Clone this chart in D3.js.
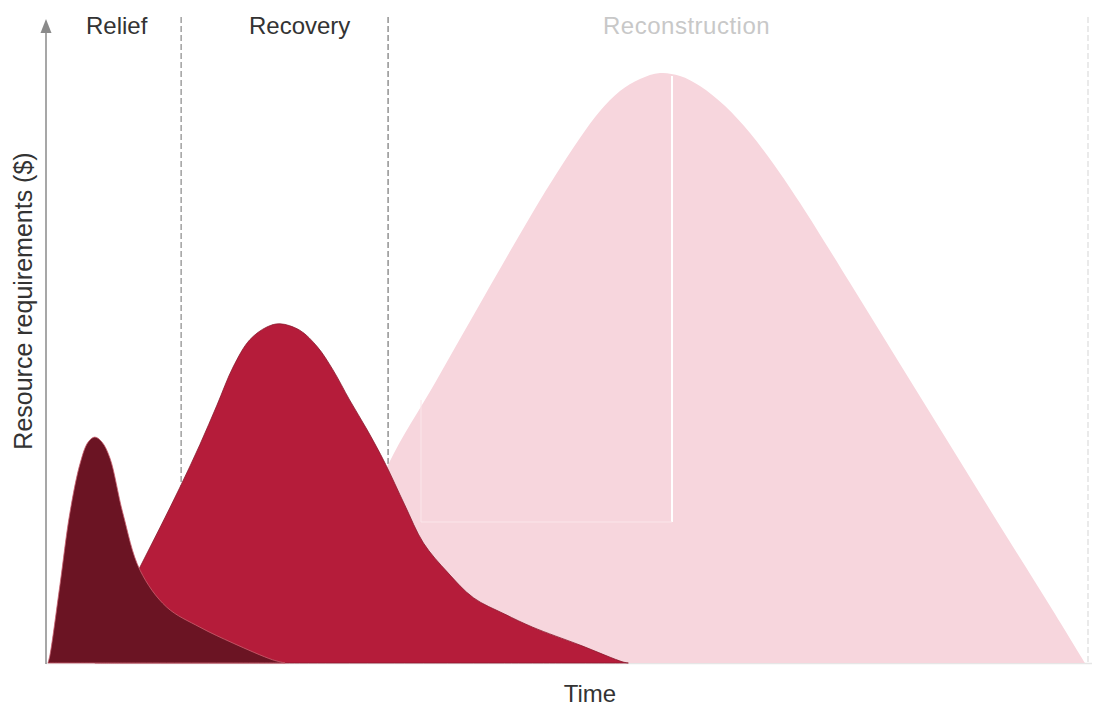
<!DOCTYPE html>
<html>
<head>
<meta charset="utf-8">
<script src="https://cdn.jsdelivr.net/npm/d3@7"></script>
<style>
  html, body { margin: 0; padding: 0; background: #fff; }
  svg { display: block; }
</style>
</head>
<body>
<svg id="chart" width="1101" height="706"></svg>
<script>
// ---- Data (time units 0-100, resource units 0-100) ----
const phases = ["Relief", "Recovery", "Reconstruction"];
const phaseBoundaries = [12.8, 32.7, 100];   // dashed dividers (time)
const phaseLabelX = [6.6, 24.2, 61.4];        // label centres (time)

const reliefT = [0, 0.19, 1.15, 2.1, 3.1, 3.85, 4.5, 5.2, 5.96, 7.2, 8.85, 11.4, 14.6, 17.8, 21.6, 22.8];
const reliefV = [0, 1.25, 12.2, 23.4, 31.25, 34.5, 35.3, 34.5, 32.0, 23.4, 14.5, 8.75, 5.6, 3.1, 0.5, 0];

const recoveryT = [4.5, 6.9, 8.85, 10.8, 12.7, 14.6, 16.25, 17.8, 19.4, 21.05, 22.3, 24.2, 25.9, 27.4, 29.0, 30.7, 32.4, 34.3, 36.1, 38.4, 40.9, 43.9, 46.6, 51.15, 55.3, 55.8];
const recoveryV = [0, 8.75, 15.0, 21.25, 27.5, 34.1, 40.3, 46.25, 50.5, 52.5, 53.0, 52.0, 49.4, 45.8, 41.1, 36.4, 31.25, 24.7, 18.75, 14.2, 10.2, 7.65, 5.6, 2.8, 0.15, 0];

const reconT = [24.2, 28.1, 32.69, 37.21, 42.02, 46.35, 48.75, 51.15, 53.08, 55.0, 56.92, 58.85, 60.77, 62.69, 65.1, 67.5, 69.9, 72.31, 77.12, 81.92, 86.73, 91.54, 96.35, 99.71];
const reconV = [0, 12.5, 30.94, 43.75, 57.5, 69.69, 76.09, 82.03, 86.25, 89.38, 91.25, 92.19, 91.72, 90.16, 87.03, 82.81, 77.66, 71.88, 59.38, 46.72, 34.06, 21.41, 8.91, 0];

const xLabel = "Time";
const yLabel = "Resource requirements ($)";

// ---- Layout ----
const svg = d3.select("#chart");
const x = d3.scaleLinear().domain([0, 100]).range([48, 1088]);
const y = d3.scaleLinear().domain([0, 100]).range([663, 23]);

const toPts = (t, v) => t.map((d, i) => [d, v[i]]);
const area = d3.area()
  .x(d => x(d[0]))
  .y0(y(0))
  .y1(d => Math.min(y(0), y(d[1])))
  .curve(d3.curveCatmullRom.alpha(0.5));

// baseline
svg.append("line")
  .attr("x1", 46).attr("x2", 1092)
  .attr("y1", y(0) + 0.5).attr("y2", y(0) + 0.5)
  .attr("stroke", "#e6e6e6").attr("stroke-width", 1.5);

// dashed phase dividers
const dashColors = ["#888", "#777", "#ddd"];
phaseBoundaries.forEach((b, i) => {
  svg.append("line")
    .attr("x1", x(b)).attr("x2", x(b))
    .attr("y1", 17).attr("y2", y(0))
    .attr("stroke", dashColors[i])
    .attr("stroke-width", 1.2)
    .attr("stroke-dasharray", "6,3");
});

// reconstruction (back)
svg.append("path")
  .datum(toPts(reconT, reconV))
  .attr("d", area)
  .attr("fill", "#f7d6dd");

// scan artefact lines in the pink area
svg.append("line")
  .attr("x1", 672).attr("x2", 672).attr("y1", 76).attr("y2", 522)
  .attr("stroke", "#ffffff").attr("stroke-width", 2);
svg.append("path")
  .attr("d", "M421,400 L421,522 L672,522")
  .attr("fill", "none").attr("stroke", "#fbe6ea").attr("stroke-width", 1);

// recovery
svg.append("path")
  .datum(toPts(recoveryT, recoveryV))
  .attr("d", area)
  .attr("fill", "#b51c3a")
  .attr("stroke", "#8c1a2e").attr("stroke-width", 0.8);

// relief (front)
svg.append("path")
  .datum(toPts(reliefT, reliefV))
  .attr("d", area)
  .attr("fill", "#6b1423")
  .attr("stroke", "#c9606f").attr("stroke-width", 0.8);

// y axis with arrow
svg.append("line")
  .attr("x1", 46).attr("x2", 46)
  .attr("y1", 30).attr("y2", y(0) + 1)
  .attr("stroke", "#8a8a8a").attr("stroke-width", 1.5);
svg.append("path")
  .attr("d", "M46,19 L40.5,33 L51.5,33 Z")
  .attr("fill", "#8a8a8a");

// phase labels
const labelColors = ["#333", "#333", "#c8c8c8"];
phases.forEach((p, i) => {
  svg.append("text")
    .attr("x", x(phaseLabelX[i]))
    .attr("y", 34)
    .attr("text-anchor", "middle")
    .attr("font-family", "'Liberation Sans', Arial, sans-serif")
    .attr("font-size", 24)
    .attr("letter-spacing", i === 2 ? 0.5 : 0)
    .attr("fill", labelColors[i])
    .text(p);
});

// axis titles
svg.append("text")
  .attr("x", 590).attr("y", 702)
  .attr("text-anchor", "middle")
  .attr("font-family", "'Liberation Sans', Arial, sans-serif")
  .attr("font-size", 24)
  .attr("fill", "#333")
  .text(xLabel);

svg.append("text")
  .attr("transform", "translate(32,301) rotate(-90)")
  .attr("text-anchor", "middle")
  .attr("font-family", "'Liberation Sans', Arial, sans-serif")
  .attr("font-size", 25)
  .attr("fill", "#333")
  .text(yLabel);
</script>
</body>
</html>
